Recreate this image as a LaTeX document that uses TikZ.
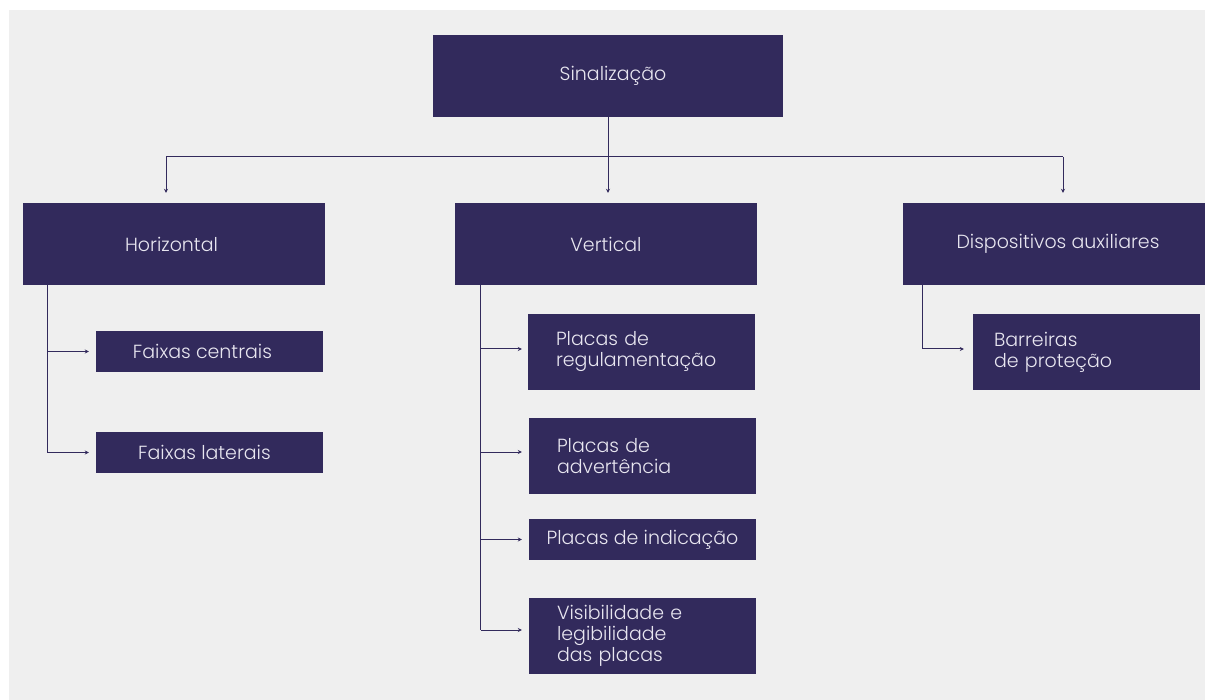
\documentclass[tikz,border=0pt]{standalone}
\usepackage{fontspec}
\setmainfont{Poppins}[UprightFont={* Light}]
\usetikzlibrary{arrows.meta,calc}
\definecolor{bg}{HTML}{EFEFEF}
\definecolor{boxc}{HTML}{322A5C}
\definecolor{txt}{HTML}{E8E6F0}
\begin{document}
\begin{tikzpicture}[x=1pt,y=-1pt,
  box/.style={fill=boxc,text=txt,inner sep=0pt,font=\fontsize{19}{21}\selectfont},
  big/.style={box,minimum width=302pt,minimum height=82pt},
  small/.style={box,minimum width=227pt,minimum height=41pt},
  tall/.style={box,minimum height=76pt,inner xsep=28pt,text width=171pt,align=left},
  conn/.style={draw=boxc,line width=1pt},
  arr/.style={conn,-{Stealth[length=4pt,width=4pt]}}]
\useasboundingbox (0,0) rectangle (1205,700);
\fill[bg] (9,10) rectangle (1205,700);
% nodes
\node[box,minimum width=350pt,minimum height=82pt] (S) at (608,76) {\hspace*{10pt}Sinalização};
\node[big] (H) at (174,244) {\hspace*{-5pt}Horizontal};
\node[big] (V) at (606,244) {Vertical};
\node[big] (D) at (1054,244) {\hspace*{8pt}Dispositivos auxiliares};
\node[small] (FC) at (209.5,351.5) {\hspace*{-14pt}Faixas centrais};
\node[small] (FL) at (209.5,452.5) {\hspace*{-10pt}Faixas laterais};
\node[tall] (R) at (641.5,352) {Placas de\\regulamentação};
\node[tall] (A) at (642.5,456) {Placas de\\advertência};
\node[small] (I) at (642.5,539.5) {Placas de indicação};
\node[tall] (VI) at (642.5,636) {Visibilidade e\\legibilidade\\das placas};
\node[tall,inner xsep=21pt,text width=185pt] (B) at (1086.5,352) {Barreiras\\de proteção};
% top bus
\coordinate (busL) at (166,157);
\coordinate (busC) at (608,157);
\coordinate (busR) at (1063,157);
\draw[conn] (S.south) -- (busC);
\draw[conn] (busL) -- (busR);
\draw[arr,shorten >=10pt] (busL) -- (busL |- H.north);
\draw[arr,shorten >=10pt] (busC) -- (busC |- V.north);
\draw[arr,shorten >=10pt] (busR) -- (busR |- D.north);
% horizontal branches
\coordinate (hx) at ($(H.south west)+(25,0)$);
\draw[conn] (hx) -- (hx |- FL.west);
\draw[arr,shorten >=7pt] (hx |- FC.west) -- (FC.west);
\draw[arr,shorten >=7pt] (hx |- FL.west) -- (FL.west);
% vertical branches
\coordinate (vx) at ($(V.south west)+(26,0)$);
\draw[conn] (vx) -- ($(vx |- VI.west)+(0,-6)$);
\draw[arr,shorten >=6pt] ($(vx |- R.west)+(0,-3)$) -- ($(R.west)+(0,-3)$);
\draw[arr,shorten >=7pt] ($(vx |- A.west)+(0,-4)$) -- ($(A.west)+(0,-4)$);
\draw[arr,shorten >=7pt] (vx |- I.west) -- (I.west);
\draw[arr,shorten >=7pt] ($(vx |- VI.west)+(0,-6)$) -- ($(VI.west)+(0,-6)$);
% dispositivos branch
\coordinate (dx) at ($(D.south west)+(20,0)$);
\draw[arr,shorten >=9pt] (dx) |- ($(B.west)+(0,-3)$);
\end{tikzpicture}
\end{document}
